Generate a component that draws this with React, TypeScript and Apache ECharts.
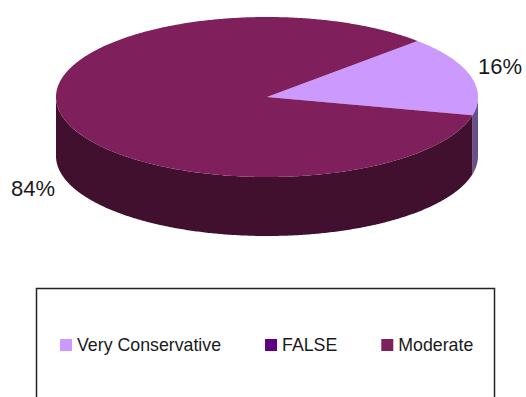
import React, { useEffect, useRef } from "react";
import * as echarts from "echarts";

const categories = ["Very Conservative", "FALSE", "Moderate"];
const shares = [16, 0, 84];
const topColors = ["#cc99ff", "#5f0080", "#7f1f5b"];
const sideColors = ["#66508a", "#300040", "#41102e"];

// Tilted pie geometry, in pixels and degrees
const CX = 267;
const CY = 97;
const RX = 211;
const RY = 80;
const DEPTH = 59;
const START_DEG = 44.5;

const total = shares.reduce((a, b) => a + b, 0);

const rimPoint = (deg: number, dy = 0): number[] => [
  CX + RX * Math.cos((deg * Math.PI) / 180),
  CY - RY * Math.sin((deg * Math.PI) / 180) + dy,
];

// Arc samples between two angles
const arc = (from: number, to: number, dy = 0): number[][] => {
  const n = Math.max(2, Math.ceil(Math.abs(to - from) * 2));
  const pts: number[][] = [];
  for (let i = 0; i <= n; i++) pts.push(rimPoint(from + ((to - from) * i) / n, dy));
  return pts;
};

const labelAnchors: Record<number, { x: number; y: number; align: string }> = {
  0: { x: 478, y: 66, align: "left" },
  2: { x: 55, y: 188, align: "right" },
};

const makeRenderItem = (index: number) => (_params: any, api: any) => {
  const value = api.value(0) as number;
  if (!value) return { type: "group", children: [] };
  const before = shares.slice(0, index).reduce((a, b) => a + b, 0);
  const from = START_DEG - (before / total) * 360;
  const to = from - (value / total) * 360;
  const children: any[] = [];

  // Wall: the part of the slice rim that lies on the near half of the ellipse
  const lo = Math.max(to, -180);
  const hi = Math.min(from, 0);
  if (hi > lo) {
    children.push({
      type: "polygon",
      shape: { points: [...arc(hi, lo), ...arc(lo, hi, DEPTH)] },
      style: { fill: sideColors[index] },
    });
  }
  children.push({
    type: "polygon",
    shape: { points: [[CX, CY], ...arc(from, to)] },
    style: { fill: topColors[index] },
  });
  const anchor = labelAnchors[index];
  if (anchor) {
    children.push({
      type: "text",
      x: anchor.x,
      y: anchor.y,
      style: {
        text: `${Math.round((value / total) * 100)}%`,
        font: '22px "Liberation Sans"',
        fill: "#1a1a1a",
        align: anchor.align,
        verticalAlign: "middle",
      },
    });
  }
  return { type: "group", children };
};

export default function App() {
  const ref = useRef<HTMLDivElement>(null);
  useEffect(() => {
    document.body.style.margin = "0";
    const chart = echarts.init(ref.current!, undefined, { renderer: "svg" });
    chart.setOption({
      animation: false,
      backgroundColor: "#ffffff",
      legend: {
        data: categories,
        left: 60,
        top: 336,
        padding: 0,
        itemGap: 44,
        itemWidth: 12,
        itemHeight: 12,
        icon: "rect",
        selectedMode: false,
        textStyle: { fontFamily: "Liberation Sans", fontSize: 17.75, color: "#1a1a1a" },
      },
      graphic: [
        {
          type: "rect",
          shape: { x: 36.5, y: 288.5, width: 458, height: 130 },
          style: { fill: "none", stroke: "#222222", lineWidth: 1.5 },
        },
      ],
      series: categories.map((name, i) => ({
        type: "custom",
        name,
        coordinateSystem: "none",
        silent: true,
        itemStyle: { color: topColors[i] },
        data: [[shares[i]]],
        renderItem: makeRenderItem(i),
      })),
    });
    return () => chart.dispose();
  }, []);
  return <div ref={ref} style={{ width: 526, height: 397 }} />;
}
